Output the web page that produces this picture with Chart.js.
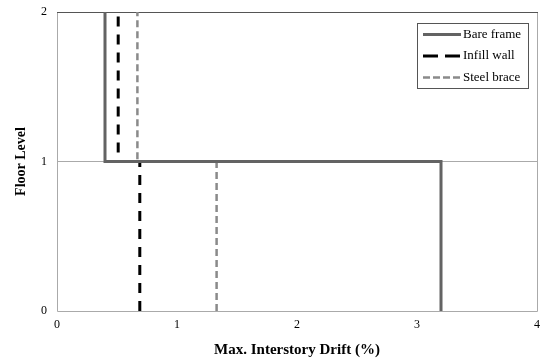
<!DOCTYPE html>
<html><head><meta charset="utf-8">
<script src="https://cdn.jsdelivr.net/npm/chart.js@4/dist/chart.umd.min.js"></script>
<style>html,body{margin:0;padding:0;background:#fff}#wrap{width:542px;height:360px}</style>
</head><body><div id="wrap"><canvas id="c" width="542" height="360"></canvas></div>
<script>
// Floor levels and drift values (step profile, %)
const floorLevels = [0, 1, 1, 2];
const bareFrameDrift = [3.2, 3.2, 0.4, 0.4];
const infillWallDrift = [0.69, 0.69, 0.51, 0.51];
const steelBraceDrift = [1.33, 1.33, 0.67, 0.67];
const seriesNames = ['Bare frame', 'Infill wall', 'Steel brace'];
const xTicks = [0, 1, 2, 3, 4];
const yTicks = [0, 1, 2];

function pts(xs, ys) { return xs.map((x, i) => ({ x: x, y: ys[i] })); }

const FONT = '"Liberation Serif", "Times New Roman", serif';
const legendDash = [[], [15, 7], [7, 3]];

const legendPlugin = {
  id: 'boxLegend',
  afterDraw(chart) {
    const ctx = chart.ctx;
    const x0 = 417, y0 = 23, w = 111, h = 65;
    ctx.save();
    ctx.fillStyle = '#fff';
    ctx.fillRect(x0, y0, w, h);
    ctx.strokeStyle = '#555';
    ctx.lineWidth = 1;
    ctx.strokeRect(x0 + 0.5, y0 + 0.5, w, h);
    chart.data.datasets.forEach((ds, i) => {
      const y = y0 + 11.5 + i * 21.5;
      ctx.beginPath();
      ctx.strokeStyle = ds.borderColor;
      ctx.lineWidth = ds.borderWidth;
      ctx.setLineDash(legendDash[i]);
      ctx.moveTo(x0 + 6, y);
      ctx.lineTo(x0 + 44, y);
      ctx.stroke();
      ctx.setLineDash([]);
      ctx.fillStyle = '#000';
      ctx.font = '13px ' + FONT;
      ctx.textBaseline = 'middle';
      ctx.fillText(ds.label, x0 + 46, y);
    });
    ctx.restore();
  }
};

const borderPlugin = {
  id: 'plotBorder',
  beforeDatasetsDraw(chart) {
    const a = chart.chartArea, ctx = chart.ctx;
    ctx.save();
    ctx.lineWidth = 1;
    ctx.strokeStyle = '#aaa';
    ctx.beginPath();
    ctx.moveTo(Math.round(a.left) + 0.5, Math.round(a.top));
    ctx.lineTo(Math.round(a.left) + 0.5, Math.round(a.bottom) + 0.5);
    ctx.lineTo(Math.round(a.right) + 0.5, Math.round(a.bottom) + 0.5);
    ctx.lineTo(Math.round(a.right) + 0.5, Math.round(a.top));
    ctx.stroke();
    ctx.strokeStyle = '#555';
    ctx.beginPath();
    ctx.moveTo(Math.round(a.left), Math.round(a.top) + 0.5);
    ctx.lineTo(Math.round(a.right) + 1, Math.round(a.top) + 0.5);
    ctx.stroke();
    ctx.restore();
  }
};

new Chart(document.getElementById('c'), {
  type: 'scatter',
  data: {
    datasets: [
      { label: seriesNames[0], data: pts(bareFrameDrift, floorLevels), showLine: true,
        borderColor: '#636363', borderWidth: 3, pointRadius: 0, borderJoinStyle: 'miter', fill: false },
      { label: seriesNames[1], data: pts(infillWallDrift, floorLevels), showLine: true,
        borderColor: '#000', borderWidth: 3, borderDash: [10, 8], pointRadius: 0, fill: false },
      { label: seriesNames[2], data: pts(steelBraceDrift, floorLevels), showLine: true,
        borderColor: '#8a8a8a', borderWidth: 2.5, borderDash: [7, 4], pointRadius: 0, fill: false }
    ]
  },
  options: {
    responsive: false,
    animation: false,
    layout: { padding: { top: 12, right: 5, left: 13, bottom: 0 } },
    plugins: { legend: { display: false }, tooltip: { enabled: false } },
    scales: {
      x: {
        type: 'linear', min: 0, max: 4,
        afterBuildTicks(s) { s.ticks = xTicks.map(v => ({ value: v })); },
        afterFit(s) { s.height = 49; s.paddingLeft = 0; s.paddingRight = 0; },
        grid: { display: false, drawTicks: false },
        border: { display: false },
        ticks: { color: '#000', font: { family: FONT, size: 12 }, padding: 7 },
        title: { display: true, text: 'Max. Interstory Drift (%)', color: '#000',
          font: { family: FONT, size: 15, weight: 'bold' }, padding: { top: 4, bottom: 1 } }
      },
      y: {
        type: 'linear', min: 0, max: 2,
        afterBuildTicks(s) { s.ticks = yTicks.map(v => ({ value: v })); },
        afterFit(s) { s.width = 44; s.paddingTop = 0; s.paddingBottom = 0; },
        grid: { color: (c) => c.tick && c.tick.value === 1 ? '#aaa' : 'rgba(0,0,0,0)', drawTicks: false, lineWidth: 1 },
        border: { display: false },
        ticks: { color: '#000', font: { family: FONT, size: 12 }, padding: 10 },
        title: { display: true, text: 'Floor Level', color: '#000',
          font: { family: FONT, size: 14, weight: 'bold' }, padding: { top: 0, bottom: 2 } }
      }
    }
  },
  plugins: [borderPlugin, legendPlugin]
});
</script>
</body></html>
